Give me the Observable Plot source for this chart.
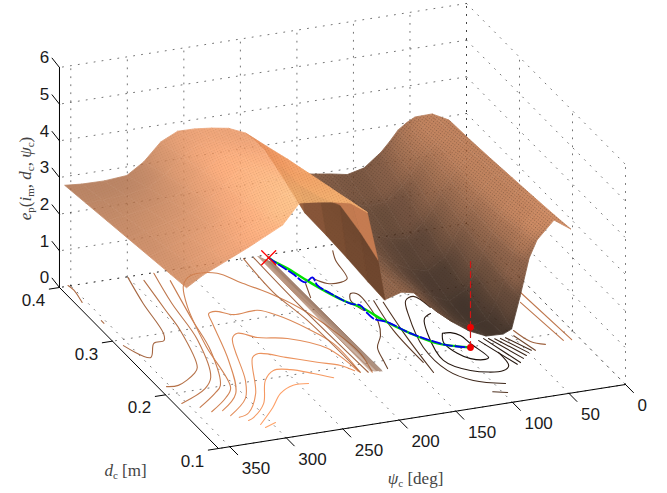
<!DOCTYPE html>
<html><head><meta charset="utf-8">
<script src="https://cdn.jsdelivr.net/npm/d3@7"></script>
<script src="https://cdn.jsdelivr.net/npm/@observablehq/plot@0.6"></script>
<style>html,body{margin:0;padding:0;background:#fff;overflow:hidden}</style>
</head><body><div id="chart"></div>
<script>
// ---- axis values ----
const psiTicks=[0,50,100,150,200,250,300,350];
const dTicks=[0.1,0.2,0.3,0.4];
const zTicks=[0,1,2,3,4,5,6];
const psiMax=360, dMin=0.1, dMax=0.4, zMax=6;

// ---- surface e_p(psi,d): one row per d ----
const surfD=[0.40,0.36,0.32,0.28,0.24,0.20,0.17];
const rightPsi=[15,30,45,52,60,67.5,75,90,105,120,135,150,165,180];
const rightZ40=[2.88,3.12,3.11,3.00,2.83,2.55,2.30,1.94,1.83,1.92,1.99,2.07,2.57,2.97];
const rightZ36=[2.92,3.15,3.00,2.82,2.60,2.25,1.95,1.60,1.55,1.70,1.85,2.00,2.45,2.69];
const rightZ32=[2.98,3.20,2.90,2.62,2.30,1.90,1.55,1.20,1.25,1.45,1.70,1.95,2.30,2.32];
const rightZ28=[3.05,3.25,2.80,2.45,2.05,1.60,1.20,0.90,1.00,1.25,1.55,1.90,2.25,2.30];
const rightZ24=[3.12,3.35,2.80,2.35,1.85,1.30,0.90,0.65,0.85,1.12,1.50,1.95,2.25,2.26];
const rightZ20=[3.20,3.50,2.95,2.40,1.70,1.10,0.65,0.55,0.80,1.10,1.55,2.05,2.25,2.19];
const rightZ17=[3.27,3.59,3.12,2.66,1.65,0.80,0.70,0.72,0.93,1.25,1.70,2.18,2.28,2.14];
const leftPsi=[195,210,225,240,255,270,285,300,320,340,355];
const leftZ40=[3.40,3.60,3.68,3.73,3.74,3.52,3.05,2.75,2.70,2.71,2.75];
const leftZ36=[3.62,3.83,3.91,3.97,3.99,3.71,3.28,3.00,2.90,2.87,2.85];
const leftZ32=[3.85,4.06,4.15,4.21,4.23,3.90,3.51,3.24,3.11,3.02,2.95];
const leftZ28=[4.05,4.30,4.38,4.44,4.48,4.09,3.75,3.49,3.32,3.18,3.05];
const leftZ24=[4.25,4.53,4.62,4.68,4.72,4.28,3.98,3.73,3.52,3.33,3.15];
const leftZ20=[4.45,4.76,4.85,4.92,4.97,4.47,4.21,3.98,3.73,3.49,3.25];
const leftZ17=[4.60,4.93,5.03,5.10,5.15,4.62,4.39,4.16,3.88,3.60,3.32];
const rightZ=[rightZ40,rightZ36,rightZ32,rightZ28,rightZ24,rightZ20,rightZ17];
const leftZ=[leftZ40,leftZ36,leftZ32,leftZ28,leftZ24,leftZ20,leftZ17];
// ---- the steep fold between the two lobes: [psi,d,z] ----
const foldCrest=[[195,.40,3.40],[195,.36,3.62],[195,.32,3.85],[195,.28,4.05],[195,.24,4.25],[195,.20,4.45],[195,.17,4.60]];
const foldMid=[[184.8,.40,3.1],[178.9,.369,2.9],[173.2,.344,2.7],[161.5,.331,2.5],[149.4,.319,2.4],[151.7,.276,2.3],[156.4,.232,2.2]];
const foldLow=[[180,.40,2.97],[175.4,.371,2.5],[168.4,.345,1.9],[157.8,.327,1.5],[153.6,.297,1.3],[152.9,.259,1.2],[153.5,.225,1.2]];

// ---- floor contours: [psi,d] pairs ----
const cA=[[352,.401],[351,.392],[354,.370]];
const cB=[[353,.336],[353,.331]];
const cC=[[300,.399],[308,.353],[315,.300],[320,.288],[330,.286],[343,.264],[355,.290]];
const cT2=[[290,.390],[296,.336],[300,.300],[315,.236],[322,.227],[343,.212],[353,.213]];
const cT3=[[277,.399],[286,.346],[294,.280],[312,.217],[325,.200],[354,.182]];
const cT4=[[270,.383],[283,.313],[292,.260],[311,.201],[321,.190],[343,.171]];
const cN1=[[184.6,.184],[179.5,.217],[182.8,.261],[191.3,.305],[204.5,.339],[217.7,.362],[228.5,.383],[250.6,.386],[263.5,.372],[277,.335],[292,.269],[304.7,.195],[316,.180],[337.4,.161]];
const cN2=[[193.8,.187],[192.6,.240],[201.2,.271],[214.2,.300],[225.7,.313],[247.2,.312],[258.7,.322],[265.6,.320],[270.1,.303],[285.8,.239],[305.4,.184],[328.2,.160]];
const cN3=[[194.6,.189],[200.9,.234],[224,.260],[246.2,.269],[258.4,.281],[266.1,.274],[287.9,.203],[301.5,.174],[325.8,.150]];
const cN4=[[196.9,.191],[203.8,.203],[219.2,.214],[238.4,.229],[257.6,.243],[265.2,.238],[290.1,.179],[309.8,.150],[320.5,.145]];
const cN5=[[218.3,.185],[230.6,.197],[245.2,.209],[258.9,.212],[272.6,.198],[291.5,.161],[309.8,.141],[315.8,.1375]];
const cN6=[[241.9,.182],[255,.183],[270.9,.173],[287.7,.152],[309.6,.128]];
const cN7=[[308.1,.122],[296.7,.1275]];
const cF0=[[197.2,.400],[199.9,.338],[195.1,.284],[193.8,.187]];
const cF1=[[188.8,.399],[189.8,.308],[187.7,.185]];
const fanTopPsi=[184.5,183.8,183.1,182.4,181.7,181,180.3,179.6,178.9,178.2,177.6];
const fanTopD=[.400,.399,.397,.396,.394,.393,.392,.390,.389,.388,.386];
const fanEndPsi=[185,184,183,182,181,180,179.2,178.4,177.6,176.8,176];
const fanEndD=[.186,.186,.186,.185,.185,.185,.185,.184,.184,.184,.184];
const cR1a=[[123,.39],[128,.374],[133,.3415],[141,.337],[152,.3385],[159,.35]];
const cR1b=[[168.6,.344],[175.4,.320]];
const cR2=[[144.6,.286],[147,.305],[141.7,.3165],[136.4,.313],[137.1,.293],[142.2,.263],[150.6,.241],[161.9,.2226],[167.2,.200],[170.1,.186]];
const cR3=[[129.4,.299],[136.8,.246],[138.1,.187]];
const cR4=[[123.3,.294],[130.7,.240],[137.9,.168]];
const cE1=[[91.1,.274],[95.8,.296],[104.9,.291],[113.9,.266],[126.7,.211],[125.7,.168],[113.4,.145],[91.1,.132]];
const cE1b=[[107.1,.122],[96.3,.117]];
const cE2=[[95.6,.264],[104,.2575],[113,.2325],[121.2,.185],[108.1,.162],[82.8,.1535],[75.2,.160],[73,.184]];
const cE3=[[101.5,.229],[94.7,.228],[89.3,.221],[87.7,.205],[84.5,.178],[88.3,.176],[99,.181],[105.2,.193],[107.5,.214],[101.5,.229]];
const cD=[[[79.2,.208],[67.6,.160]],[[73.9,.21],[63.8,.162]],[[70.1,.209],[58.4,.168]],[[65.5,.207],[53.9,.172]],[[60.9,.206],[50.1,.176]],[[56.4,.206],[46.3,.179]]];
const cD7=[[48.7,.207],[43.2,.178]];
const cD8=[[44.9,.2155],[40.2,.1935],[31,.185]];
const cD9=[[18.4,.259],[14.2,.187]];
const cD10=[[10.8,.275],[7.3,.186]];

// ---- optimisation path ----
const pathGreen=[[177.3,.395],[176.5,.3895],[171.1,.373],[166.4,.353],[160.9,.332],[152.4,.307],[143.1,.289],[136.9,.265],[126,.237],[112.9,.214],[90.7,.199]];
const pathBlue=[[177.3,.395],[176.5,.3895],[171,.363],[167.9,.346],[158.7,.352],[160.9,.338],[157.1,.322],[149.3,.300],[143.2,.295],[143.8,.28],[143,.27],[134.5,.26],[126.8,.239],[112.1,.215],[106,.208],[90.7,.199]];
const startPoint={psi:177.3,d:.395,z:0};
const minFloor={psi:90.7,d:.199,z:0};
const minSurface={psi:90.7,d:.199,z:.55};
const dashTop=2.43;

// ---- view: orthographic projection of (psi,d,z) to the drawing plane ----
const X=(p,d)=>625-1.1306*p-530*(d-0.1);
const Y=(p,d,z=0)=>384+0.1778*p-536.7*(d-0.1)-36.67*z;
const seg=(id,a,b)=>[{id,x:X(a[0],a[1]),y:Y(a[0],a[1],a[2])},{id,x:X(b[0],b[1]),y:Y(b[0],b[1],b[2])}];

let grid=[];
for(const z of zTicks){grid.push(...seg("zp"+z,[0,dMax,z],[psiMax,dMax,z]),...seg("zd"+z,[0,dMax,z],[0,dMin,z]));}
for(const p of psiTicks){grid.push(...seg("pv"+p,[p,dMax,0],[p,dMax,zMax]),...seg("pf"+p,[p,dMin,0],[p,dMax,0]));}
for(const d of dTicks){grid.push(...seg("dv"+d,[0,d,0],[0,d,zMax]),...seg("df"+d,[0,d,0],[psiMax,d,0]));}

const axes=[...seg("az",[psiMax,dMax,0],[psiMax,dMax,zMax]),...seg("ad",[psiMax,dMax,0],[psiMax,dMin,0]),...seg("ap",[psiMax,dMin,0],[0,dMin,0])];
let ticks=[];
for(const z of zTicks)ticks.push(...seg("tz"+z,[psiMax,dMax,z],[psiMax,dMax+0.014,z+0.05]));
for(const d of dTicks)ticks.push(...seg("td"+d,[psiMax,d,0],[psiMax+9,d,0]));
for(const p of psiTicks)ticks.push(...seg("tp"+p,[p,dMin,0],[p,dMin-0.015,0]));

const gridCells=(psis,zs,tag)=>{const out=[];
 psis.forEach((p,i)=>{ if(i===psis.length-1)return;
  surfD.forEach((d,j)=>{ if(j===surfD.length-1)return;
    const d2=surfD[j+1],p2=psis[i+1],id=tag+i+"-"+j;
    const v=(zs[j][i]+zs[j+1][i]+zs[j][i+1]+zs[j+1][i+1])/4;
    out.push({id,v,xa:X(p,d),ya:Y(p,d,zs[j][i]),xb:X(p,d2),yb:Y(p,d2,zs[j+1][i])});
    out.push({id,v,xa:X(p2,d),ya:Y(p2,d,zs[j][i+1]),xb:X(p2,d2),yb:Y(p2,d2,zs[j+1][i+1])});
  });});return out;};
const stripCells=(A,B,tag)=>{const out=[];
 for(let j=0;j<A.length-1;j++){const id=tag+j,v=(A[j][2]+A[j+1][2]+B[j][2]+B[j+1][2])/4;
  out.push({id,v,xa:X(A[j][0],A[j][1]),ya:Y(...A[j]),xb:X(A[j+1][0],A[j+1][1]),yb:Y(...A[j+1])});
  out.push({id,v,xa:X(B[j][0],B[j][1]),ya:Y(...B[j]),xb:X(B[j+1][0],B[j+1][1]),yb:Y(...B[j+1])});
 }return out;};
const rightCells=gridCells(rightPsi,rightZ,"r");
const leftCells=gridCells(leftPsi,leftZ,"l");
const foldCells=[...stripCells(foldLow,foldMid,"f1"),...stripCells(foldMid,foldCrest,"f2")];

const contours=[[cA,2.8],[cB,2.8],[cC,2.7],[cT2,2.95],[cT3,3.1],[cT4,3.25],[cN1,3.4],[cN2,3.55],[cN3,3.7],[cN4,3.85],[cN5,4.0],[cN6,4.15],[cN7,4.3],
 [cF0,2.9],[cF1,2.6],[cR1a,2.0],[cR1b,2.0],[cR2,1.7],[cR3,1.5],[cR4,1.3],[cE1,1.0],[cE1b,1.3],[cE2,0.6],[cE3,0.4],[cD7,1.8],[cD8,2.6],[cD9,3.1],[cD10,3.1]];
cD.forEach((c,i)=>contours.push([c,0.6+0.1*i]));
const contourPts=contours.flatMap(([pts,level],i)=>pts.map(q=>({id:i,level,x:X(q[0],q[1]),y:Y(q[0],q[1])})));
const fanPts=fanTopPsi.flatMap((p,i)=>[{id:i,level:2.5-0.06*i,x:X(p,fanTopD[i]),y:Y(p,fanTopD[i])},{id:i,level:2.5-0.06*i,x:X(fanEndPsi[i],fanEndD[i]),y:Y(fanEndPsi[i],fanEndD[i])}]);
const toLine=a=>a.map(q=>({x:X(q[0],q[1]),y:Y(q[0],q[1])}));
const at=o=>({x:X(o.psi,o.d),y:Y(o.psi,o.d,o.z)});
const s0=at(startPoint);
const crossArms=[{id:1,x:s0.x-7,y:s0.y-7},{id:1,x:s0.x+7,y:s0.y+7},{id:2,x:s0.x+7,y:s0.y-7},{id:2,x:s0.x-7,y:s0.y+7}];

const base={fontFamily:"'Liberation Sans',Arial,sans-serif",fontSize:17,fill:"#1a1a1a"};
const serif={fontFamily:"'Liberation Serif','DejaVu Serif',serif",fontSize:17,fill:"#444"};
const cellOpts={x1:"xa",y1:"ya",x2:"xb",y2:"yb",z:"id",fill:"v",stroke:"v",strokeWidth:0.5};
const plot=Plot.plot({
  width:667,height:493,margin:0,
  style:{background:"#fff",overflow:"visible"},
  x:{domain:[0,667],range:[0,667],axis:null},
  y:{domain:[0,493],range:[0,493],axis:null},
  color:{type:"linear",domain:[0,4.16,5.2],range:["#000000","#ff9f66","#ffc77f"],clamp:true},
  marks:[
    Plot.line(grid,{x:"x",y:"y",z:"id",stroke:"#000",strokeWidth:1,strokeDasharray:"1,7",strokeOpacity:0.55}),
    Plot.line(contourPts,{x:"x",y:"y",z:"id",stroke:"level",strokeWidth:1.1,curve:"catmull-rom"}),
    Plot.line(fanPts,{x:"x",y:"y",z:"id",stroke:"level",strokeWidth:0.7}),
    Plot.area(rightCells,{...cellOpts,className:"surf-right"}),
    Plot.area(foldCells,{...cellOpts,fillOpacity:0.88,strokeOpacity:0.5,className:"surf-fold"}),
    Plot.area(leftCells,{...cellOpts,className:"surf-left"}),
    Plot.line(axes,{x:"x",y:"y",z:"id",stroke:"#000",strokeWidth:1}),
    Plot.line(ticks,{x:"x",y:"y",z:"id",stroke:"#000",strokeWidth:1}),
    Plot.line(toLine(pathGreen),{x:"x",y:"y",stroke:"#00e000",strokeWidth:2.4,curve:"catmull-rom"}),
    Plot.line(toLine(pathBlue),{x:"x",y:"y",stroke:"#0000ee",strokeWidth:1.8,strokeDasharray:"9,3",curve:"catmull-rom"}),
    Plot.line([at(minFloor),at({...minFloor,z:dashTop})],{x:"x",y:"y",stroke:"#d01515",strokeWidth:1.2,strokeDasharray:"6,4"}),
    Plot.dot([at(minFloor),at(minSurface)],{x:"x",y:"y",r:3.4,fill:"#f00000"}),
    Plot.line(crossArms,{x:"x",y:"y",z:"id",stroke:"#ff0000",strokeWidth:1.3}),
    Plot.text(zTicks,{x:()=>X(psiMax,dMax),y:z=>Y(psiMax,dMax,z),text:z=>String(z),dx:-15,dy:-9.5,...base}),
    Plot.text(dTicks,{x:d=>X(psiMax,d),y:d=>Y(psiMax,d),text:d=>d.toFixed(1),dx:-26,dy:13,...base}),
    Plot.text(psiTicks,{x:p=>X(p,dMin),y:p=>Y(p,dMin),text:p=>String(p),dx:12,dy:21.5,textAnchor:"start",...base}),
    Plot.text(["ep(im, dc, ψc)"],{x:()=>25,y:()=>178,text:t=>t,rotate:-90,className:"m-ep",...serif}),
    Plot.text(["dc [m]"],{x:()=>125,y:()=>470,text:t=>t,className:"m-d",...serif}),
    Plot.text(["ψc [deg]"],{x:()=>415,y:()=>478,text:t=>t,className:"m-psi",...serif})
  ]
});
// ---- smooth shading of the facets, kept inside the exact outline of each lobe ----
const NS="http://www.w3.org/2000/svg";
const defs=document.createElementNS(NS,"defs");plot.insertBefore(defs,plot.firstChild);
const mkPat=(id,color,op,rot)=>{const p=document.createElementNS(NS,"pattern");
  p.setAttribute("id",id);p.setAttribute("width",2.6);p.setAttribute("height",2.6);p.setAttribute("patternUnits","userSpaceOnUse");
  p.setAttribute("patternTransform",`rotate(${rot})`);
  const r=document.createElementNS(NS,"rect");r.setAttribute("width",1.1);r.setAttribute("height",1.1);r.setAttribute("fill",color);r.setAttribute("fill-opacity",op);
  p.appendChild(r);defs.appendChild(p);};
mkPat("texR","#2a1405",0.4,38);mkPat("texL","#a05a28",0.32,-25);
function soften(cls,blur,opacity,tex){
  const g=plot.querySelector("g."+cls);
  const paths=[...g.querySelectorAll("path")];
  const mask=document.createElementNS(NS,"mask");mask.setAttribute("id","mask-"+cls);
  mask.setAttribute("maskUnits","userSpaceOnUse");mask.setAttribute("x",0);mask.setAttribute("y",0);mask.setAttribute("width",667);mask.setAttribute("height",493);
  paths.forEach(p=>{const c=document.createElementNS(NS,"path");c.setAttribute("d",p.getAttribute("d"));c.setAttribute("fill","#fff");c.setAttribute("stroke","#fff");c.setAttribute("stroke-width",0.8);mask.appendChild(c);});
  defs.appendChild(mask);
  const first=paths[0];
  paths.forEach(p=>{const c=p.cloneNode();c.setAttribute("stroke-width",34);c.setAttribute("stroke-linejoin","round");first.parentNode.insertBefore(c,first);});
  const w=document.createElementNS(NS,"g");
  g.parentNode.insertBefore(w,g);w.appendChild(g);
  w.setAttribute("mask",`url(#mask-${cls})`);
  w.setAttribute("opacity",opacity);
  g.style.filter=`blur(${blur}px)`;
  const r=document.createElementNS(NS,"rect");r.setAttribute("width",667);r.setAttribute("height",493);r.setAttribute("fill",`url(#${tex})`);w.appendChild(r);
}
soften("surf-right",6,0.88,"texR");
soften("surf-left",7,0.82,"texL");
// ---- math typesetting of the axis titles ----
const I=s=>`<tspan font-style="italic">${s}</tspan>`;
const S=s=>`<tspan dy="3" font-size="11">${s}</tspan><tspan dy="-3"> </tspan>`;
const S0=s=>`<tspan dy="3" font-size="11">${s}</tspan><tspan dy="-3">`;
const setM=(c,h)=>{const t=plot.querySelector("."+c+" text");if(t)t.innerHTML=h;};
setM("m-ep",`${I("e")}${S0("p")}(</tspan>${I("i")}${S0("m")},</tspan> ${I("d")}${S0("c")},</tspan> ${I("ψ")}${S0("c")})</tspan>`);
setM("m-d",`${I("d")}${S("c")}[m]`);
setM("m-psi",`${I("ψ")}${S("c")}[deg]`);
document.getElementById("chart").appendChild(plot);
</script></body></html>
